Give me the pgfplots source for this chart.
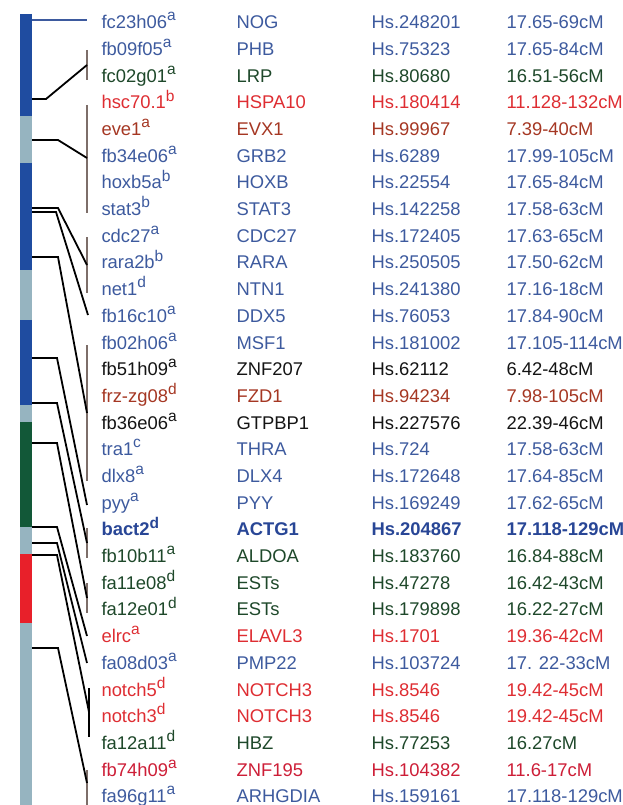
\documentclass[border=0pt]{standalone}
\usepackage{pgfplots}
\pgfplotsset{compat=1.18}
\usepackage{fontspec}
\setmainfont{Liberation Sans}

\definecolor{chrdark}{RGB}{31,76,160}
\definecolor{chrlight}{RGB}{150,180,192}
\definecolor{chrgreen}{RGB}{18,88,56}
\definecolor{chrred}{RGB}{232,32,42}
\definecolor{brk}{RGB}{125,110,105}
\definecolor{tblue}{RGB}{61,90,158}
\definecolor{tbold}{RGB}{40,70,150}
\definecolor{tgreen}{RGB}{30,72,42}
\definecolor{tred}{RGB}{222,45,50}
\definecolor{tbrown}{RGB}{165,55,35}
\definecolor{tcrim}{RGB}{205,30,55}
\definecolor{tblack}{RGB}{20,20,20}

% baseline, colour, extra font, clone, superscript, gene, Hs, cM
\newcommand\gr[8]{%
  \node[anchor=base west,text=#2,font=\genefont#3] at (axis cs:98,#1) {#4\raisebox{0.42em}{\fontsize{15.5}{16}\selectfont#5}};
  \node[anchor=base west,text=#2,font=\genefont#3] at (axis cs:233,#1) {#6};
  \node[anchor=base west,text=#2,font=\genefont#3] at (axis cs:368,#1) {#7};
  \node[anchor=base west,text=#2,font=\genefont#3] at (axis cs:503,#1) {#8};
}
\newcommand\genefont{\fontsize{18.4}{20}\selectfont}

\begin{document}
\begin{tikzpicture}
\begin{axis}[
  scale only axis,
  width=623pt, height=805pt,
  xmin=0, xmax=623, ymin=0, ymax=805,
  y dir=reverse,
  hide axis,
  clip=false,
  every node/.style={inner sep=0pt},
]
% chromosome
\addplot[line width=12pt, chrdark]  coordinates {(26,14) (26,116)};
\addplot[line width=12pt, chrlight] coordinates {(26,116) (26,163)};
\addplot[line width=12pt, chrdark]  coordinates {(26,163) (26,270)};
\addplot[line width=12pt, chrlight] coordinates {(26,270) (26,320)};
\addplot[line width=12pt, chrdark]  coordinates {(26,320) (26,405)};
\addplot[line width=12pt, chrlight] coordinates {(26,405) (26,422)};
\addplot[line width=12pt, chrgreen] coordinates {(26,422) (26,527)};
\addplot[line width=12pt, chrlight] coordinates {(26,527) (26,554)};
\addplot[line width=12pt, chrred]   coordinates {(26,554) (26,623)};
\addplot[line width=12pt, chrlight] coordinates {(26,623) (26,805)};

% brackets
\addplot[line width=2.5pt, brk] coordinates {(87,50) (87,80)};
\addplot[line width=2.5pt, brk] coordinates {(87,105) (87,213)};
\addplot[line width=2.5pt, brk] coordinates {(87,237) (87,293)};
\addplot[line width=2.5pt, brk] coordinates {(87,345) (87,481)};
\addplot[line width=2.5pt, brk] coordinates {(87,528) (87,558)};
\addplot[line width=2.5pt, brk] coordinates {(87,583) (87,613)};
\addplot[line width=2pt, black] coordinates {(89,688) (89,737)};
\addplot[line width=2.5pt, brk] coordinates {(87,770) (87,805)};

% connectors
\addplot[line width=1.2pt, tblue] coordinates {(32,20) (87,20)};
\addplot[line width=1.8pt, black] coordinates {(32,99) (46,99) (87,65)};
\addplot[line width=1.8pt, black] coordinates {(32,140) (58,140) (87,158)};
\addplot[line width=1.8pt, black] coordinates {(32,208) (58,208) (87,265)};
\addplot[line width=1.8pt, black] coordinates {(32,212) (56,212) (88,315)};
\addplot[line width=1.8pt, black] coordinates {(32,257) (58,257) (87,413)};
\addplot[line width=1.8pt, black] coordinates {(32,358) (57,358) (87,505)};
\addplot[line width=1.8pt, black] coordinates {(32,403) (57,403) (87,543)};
\addplot[line width=1.8pt, black] coordinates {(32,443) (57,443) (87,598)};
\addplot[line width=1.8pt, black] coordinates {(32,527) (57,527) (87,636)};
\addplot[line width=1.8pt, black] coordinates {(32,543) (57,543) (87,663)};
\addplot[line width=1.8pt, black] coordinates {(32,555) (57,555) (89,712)};
\addplot[line width=1.8pt, black] coordinates {(32,648) (58,648) (87,783)};

% table text
\gr{28.7}{tblue}{}{fc23h06}{a}{NOG}{Hs.248201}{17.65-69cM}
\gr{55.4}{tblue}{}{fb09f05}{a}{PHB}{Hs.75323}{17.65-84cM}
\gr{82.1}{tgreen}{}{fc02g01}{a}{LRP}{Hs.80680}{16.51-56cM}
\gr{108.8}{tred}{}{hsc70.1}{b}{HSPA10}{Hs.180414}{11.128-132cM}
\gr{135.5}{tbrown}{}{eve1}{a}{EVX1}{Hs.99967}{7.39-40cM}
\gr{162.2}{tblue}{}{fb34e06}{a}{GRB2}{Hs.6289}{17.99-105cM}
\gr{188.8}{tblue}{}{hoxb5a}{b}{HOXB}{Hs.22554}{17.65-84cM}
\gr{215.5}{tblue}{}{stat3}{b}{STAT3}{Hs.142258}{17.58-63cM}
\gr{242.2}{tblue}{}{cdc27}{a}{CDC27}{Hs.172405}{17.63-65cM}
\gr{268.9}{tblue}{}{rara2b}{b}{RARA}{Hs.250505}{17.50-62cM}
\gr{295.6}{tblue}{}{net1}{d}{NTN1}{Hs.241380}{17.16-18cM}
\gr{322.3}{tblue}{}{fb16c10}{a}{DDX5}{Hs.76053}{17.84-90cM}
\gr{349.0}{tblue}{}{fb02h06}{a}{MSF1}{Hs.181002}{17.105-114cM}
\gr{375.7}{tblack}{}{fb51h09}{a}{ZNF207}{Hs.62112}{6.42-48cM}
\gr{402.4}{tbrown}{}{frz-zg08}{d}{FZD1}{Hs.94234}{7.98-105cM}
\gr{429.1}{tblack}{}{fb36e06}{a}{GTPBP1}{Hs.227576}{22.39-46cM}
\gr{455.7}{tblue}{}{tra1}{c}{THRA}{Hs.724}{17.58-63cM}
\gr{482.4}{tblue}{}{dlx8}{a}{DLX4}{Hs.172648}{17.64-85cM}
\gr{509.1}{tblue}{}{pyy}{a}{PYY}{Hs.169249}{17.62-65cM}
\gr{535.8}{tbold}{\bfseries}{bact2}{d}{ACTG1}{Hs.204867}{17.118-129cM}
\gr{562.5}{tgreen}{}{fb10b11}{a}{ALDOA}{Hs.183760}{16.84-88cM}
\gr{589.2}{tgreen}{}{fa11e08}{d}{ESTs}{Hs.47278}{16.42-43cM}
\gr{615.9}{tgreen}{}{fa12e01}{d}{ESTs}{Hs.179898}{16.22-27cM}
\gr{642.6}{tred}{}{elrc}{a}{ELAVL3}{Hs.1701}{19.36-42cM}
\gr{669.3}{tblue}{}{fa08d03}{a}{PMP22}{Hs.103724}{17. 22-33cM}
\gr{696.0}{tred}{}{notch5}{d}{NOTCH3}{Hs.8546}{19.42-45cM}
\gr{722.6}{tred}{}{notch3}{d}{NOTCH3}{Hs.8546}{19.42-45cM}
\gr{749.3}{tgreen}{}{fa12a11}{d}{HBZ}{Hs.77253}{16.27cM}
\gr{776.0}{tcrim}{}{fb74h09}{a}{ZNF195}{Hs.104382}{11.6-17cM}
\gr{802.7}{tblue}{}{fa96g11}{a}{ARHGDIA}{Hs.159161}{17.118-129cM}
\end{axis}
\pgfresetboundingbox
\path (0,0) rectangle (623pt,805pt);
\end{tikzpicture}
\end{document}
